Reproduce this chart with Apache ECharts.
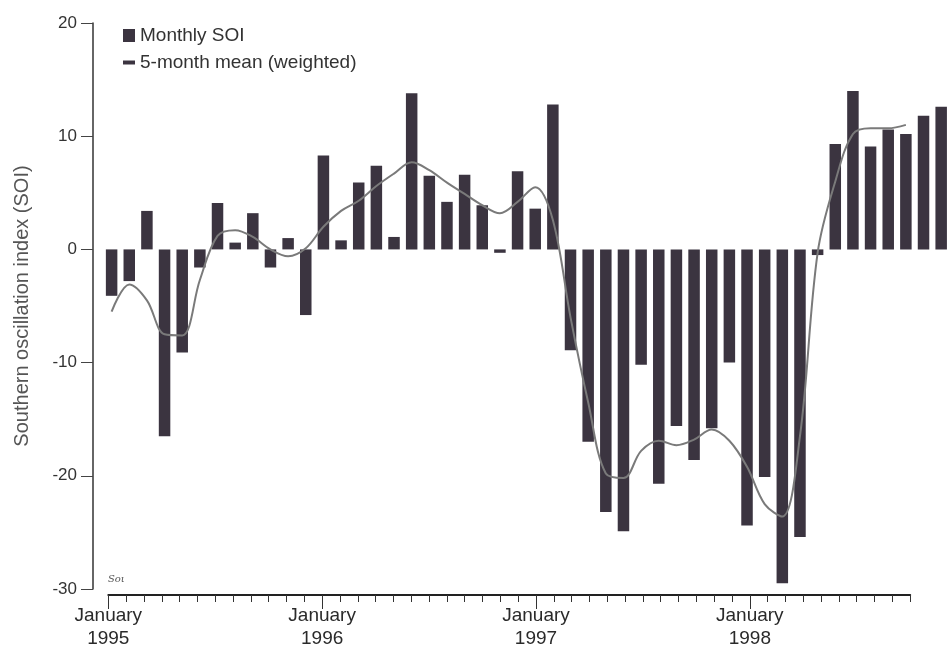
<!DOCTYPE html>
<html>
<head>
<meta charset="utf-8">
<script src="https://cdn.jsdelivr.net/npm/echarts@6/dist/echarts.min.js"></script>
<style>html,body{margin:0;padding:0;background:#fff}#c{width:950px;height:650px}</style>
</head>
<body>
<div id="c"></div>
<script>
// Months Jan 1995 .. Dec 1998
const months = [
 '1995-01','1995-02','1995-03','1995-04','1995-05','1995-06','1995-07','1995-08','1995-09','1995-10','1995-11','1995-12',
 '1996-01','1996-02','1996-03','1996-04','1996-05','1996-06','1996-07','1996-08','1996-09','1996-10','1996-11','1996-12',
 '1997-01','1997-02','1997-03','1997-04','1997-05','1997-06','1997-07','1997-08','1997-09','1997-10','1997-11','1997-12',
 '1998-01','1998-02','1998-03','1998-04','1998-05','1998-06','1998-07','1998-08','1998-09','1998-10','1998-11','1998-12'
];
const monthlySOI = [
 -4.1, -2.8, 3.4, -16.5, -9.1, -1.6, 4.1, 0.6, 3.2, -1.6, 1.0, -5.8,
 8.3, 0.8, 5.9, 7.4, 1.1, 13.8, 6.5, 4.2, 6.6, 3.9, -0.3, 6.9,
 3.6, 12.8, -8.9, -17.0, -23.2, -24.9, -10.2, -20.7, -15.6, -18.6, -15.8, -10.0,
 -24.4, -20.1, -29.5, -25.4, -0.5, 9.3, 14.0, 9.1, 10.6, 10.2, 11.8, 12.6
];
const meanSOI = [
 -5.5, -3.1, -4.5, -7.5, -7.6, -2.7, 1.2, 1.7, 1.1, 0.0, -0.6, 0.1,
 2.0, 3.4, 4.3, 5.6, 6.7, 7.7, 7.0, 5.9, 4.9, 3.9, 3.2, 4.2,
 5.5, 2.6, -6.0, -13.5, -19.8, -20.2, -17.8, -16.9, -17.3, -16.8, -15.9, -16.9,
 -19.2, -22.5, -23.6, -16.5, -0.3, 6.0, 10.2, 10.7, 10.7, 11.0, null, null
];
const yearLabels = ['1995', '1996', '1997', '1998'];
const yTicks = { min: -30, max: 20, interval: 10 };

const FONT = "'Liberation Sans', Arial, sans-serif";
const BAR = '#3b3440';
const step = 17.82;

const chart = echarts.init(document.getElementById('c'), null, { renderer: 'canvas' });
chart.setOption({
  backgroundColor: '#ffffff',
  animation: false,
  textStyle: { fontFamily: FONT },
  legend: [
    { data: ['Monthly SOI'], left: 123, top: 26, padding: 0, itemWidth: 12, itemHeight: 13,
      icon: 'rect', textStyle: { fontSize: 19, color: '#333', fontFamily: FONT } },
    { data: [{ name: '5-month mean (weighted)', icon: 'rect', itemStyle: { color: BAR } }],
      left: 123, top: 53, padding: 0, itemWidth: 12, itemHeight: 4,
      textStyle: { fontSize: 19, color: '#333', fontFamily: FONT } }
  ],
  grid: [
    { left: 111.7 - step / 2, width: step * 48, top: 23, height: 566 },
    { left: 108.3, width: step * 45, top: 23, height: 572 },
    { left: 108.3, width: step * 36, top: 23, height: 572 }
  ],
  xAxis: [
    { type: 'category', gridIndex: 0, data: months, show: false, boundaryGap: true },
    { type: 'value', gridIndex: 1, min: 0, max: 45, interval: 1,
      axisLine: { show: true, onZero: false, lineStyle: { color: '#222', width: 2 } },
      axisTick: { show: true, length: 7, lineStyle: { color: '#333', width: 1 } },
      splitLine: { show: false },
      axisLabel: { show: true, margin: 9, fontSize: 19, lineHeight: 23, color: '#2a2a2a', fontFamily: FONT,
        formatter: v => (v % 12 === 0 ? 'January\n' + yearLabels[v / 12] : '') } },
    { type: 'value', gridIndex: 2, min: 0, max: 36, interval: 12,
      axisLine: { show: false, onZero: false },
      axisTick: { show: true, length: 14, lineStyle: { color: '#333', width: 1 } },
      splitLine: { show: false }, axisLabel: { show: false } }
  ],
  yAxis: [
    { type: 'value', gridIndex: 0, min: yTicks.min, max: yTicks.max, interval: yTicks.interval,
      offset: (111.7 - step / 2) - 93,
      name: 'Southern oscillation index (SOI)', nameLocation: 'middle', nameGap: 61,
      nameTextStyle: { fontSize: 20, color: '#555', fontFamily: FONT },
      axisLine: { show: true, lineStyle: { color: '#333', width: 1.5 } },
      axisTick: { show: true, length: 12, lineStyle: { color: '#444', width: 1 } },
      axisLabel: { fontSize: 17, color: '#333', margin: 16, fontFamily: FONT },
      splitLine: { show: false } },
    { type: 'value', gridIndex: 1, show: false, min: 0, max: 1 },
    { type: 'value', gridIndex: 2, show: false, min: 0, max: 1 }
  ],
  graphic: [
    { type: 'text', left: 108, top: 574,
      style: { text: 'Soι', font: 'italic 10px "DejaVu Serif", serif', fill: '#555' } }
  ],
  series: [
    { name: 'Monthly SOI', type: 'bar', xAxisIndex: 0, yAxisIndex: 0, data: monthlySOI,
      barWidth: 11.5, itemStyle: { color: BAR }, z: 2 },
    { name: '5-month mean (weighted)', type: 'line', xAxisIndex: 0, yAxisIndex: 0, data: meanSOI,
      smooth: 0.35, showSymbol: false, symbol: 'none', connectNulls: false,
      lineStyle: { color: '#7a7a7a', width: 2 }, itemStyle: { color: BAR }, z: 3 }
  ]
});
</script>
</body>
</html>
